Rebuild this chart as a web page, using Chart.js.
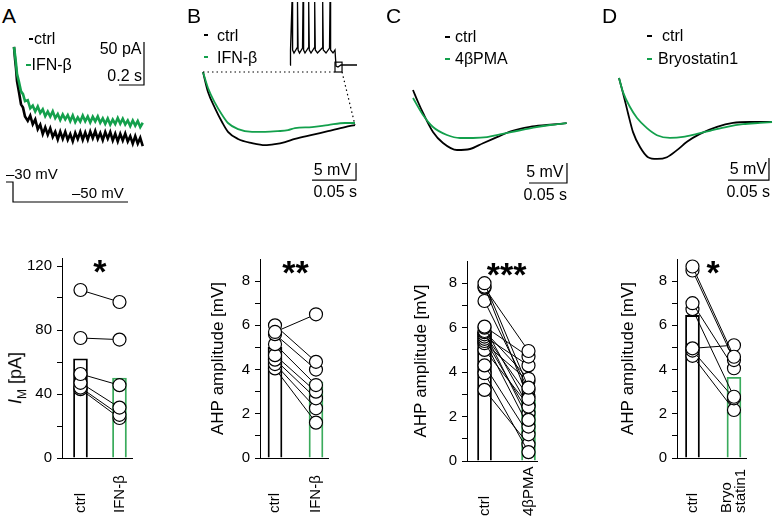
<!DOCTYPE html>
<html>
<head>
<meta charset="utf-8">
<script src="https://cdn.jsdelivr.net/npm/chart.js@4.4.1/dist/chart.umd.min.js"></script>
<style>
  html, body { margin: 0; padding: 0; background: #fff; overflow: hidden; }
  #fig { position: relative; width: 778px; height: 524px; overflow: hidden;
         font-family: "Liberation Sans", Arial, sans-serif; color: #000; }
  #fig canvas { position: absolute; }
  .t { position: absolute; white-space: nowrap; line-height: 1; }
  .dash { position: absolute; height: 2px; }
</style>
</head>
<body>
<div id="fig"></div>
<script>
// ---- top row: example traces ----
// A: I_M relaxation (time in s, current in pA)
const aTime = [0, 0.008, 0.016, 0.024, 0.04, 0.056, 0.072, 0.088,
  0.11, 0.13, 0.15, 0.17, 0.19, 0.21, 0.23, 0.25, 0.27, 0.29, 0.31, 0.33, 0.35, 0.37, 0.39, 0.41,
  0.43, 0.45, 0.47, 0.49, 0.51, 0.53, 0.55, 0.57, 0.59, 0.61, 0.63, 0.65, 0.67, 0.69, 0.71, 0.73,
  0.75, 0.77, 0.79, 0.81, 0.83, 0.85, 0.87, 0.89, 0.91, 0.93, 0.95, 0.97, 0.99, 1.01, 1.03];
const aIfn = [119.8, 110.5, 100.4, 88.6, 78.9, 68.2, 64.9, 56.8,
  57.9, 48.5, 51.6, 44.8, 50.6, 43.0, 47.3, 39.4, 44.6, 38.8, 44.9, 37.1, 41.8, 34.8, 41.2, 35.7,
  40.6, 33.6, 40.1, 32.5, 38.0, 33.0, 40.0, 33.5, 39.0, 32.0, 38.6, 33.3, 39.0, 31.6, 36.8, 30.4,
  36.7, 29.5, 35.4, 30.2, 37.1, 30.5, 36.3, 29.7, 34.4, 27.9, 34.3, 28.3, 33.7, 26.7, 31.7];
const aCtrl = [119.8, 106.2, 95.0, 80.1, 67.2, 53.1, 49.3, 38.9,
  33.9, 39.9, 29.9, 35.5, 24.2, 29.4, 18.5, 26.3, 17.8, 25.3, 15.2, 21.2, 12.3, 21.4, 13.0, 21.1,
  11.9, 18.5, 10.1, 19.9, 12.7, 21.1, 11.9, 20.3, 12.1, 21.4, 13.7, 22.1, 12.9, 19.8, 11.6, 20.9,
  13.2, 20.9, 11.1, 18.9, 10.1, 18.8, 11.0, 19.2, 9.9, 16.1, 7.4, 16.1, 7.4, 14.2, 4.5];
const protoTime = [-0.064, -0.008, -0.008, 0.912];
const protoMv = [-30, -30, -50, -50];

// B: AHP after spike train (ms, mV relative to end of train)
const bCtrlT = [0, 5.7, 13.6, 21.6, 28.4, 39.8, 55.7, 70.5, 81.8, 93.2, 104.5, 123.9, 142.0, 161.4, 172.7];
const bCtrlV = [0, -5.9, -10.6, -14.7, -17.6, -19.7, -20.9, -21.5, -21.2, -20.6, -19.7, -18.5, -17.4, -16.2, -15.6];
const bIfnT = [0, 5.7, 13.6, 21.6, 28.4, 39.8, 55.7, 70.5, 85.2, 96.6, 104.5, 123.9, 142.0, 161.4, 172.7];
const bIfnV = [0, -4.7, -9.1, -12.6, -15.0, -16.8, -17.6, -17.6, -17.4, -17.1, -16.5, -16.2, -15.6, -15.0, -15.0];
// B inset: spike train
const trainT = [0, 2.5, 10, 13, 20, 35, 37.5, 40.5, 47.5, 62.5, 65, 68, 75, 91, 93.5, 96.5, 105, 121,
  123.5, 126.5, 137.5, 161, 163.5, 166.5, 180, 197.5, 200, 203, 215, 225, 230, 240, 255, 335];
const trainV = [-70, -45, 35, -45, -50, -41.7, 35, -45, -50, -41.7, 35, -45, -50, -41.7, 35, -45, -50, -41.7,
  35, -45, -50, -41.7, 35, -45, -50, -41.7, 35, -45, -50, -45, -71.7, -73.3, -70, -70];

// C
const cCtrlT = [0, 6.6, 13.2, 26.3, 39.5, 57.9, 75, 92.1, 110.5, 127.6, 153.9, 175.9, 202.2];
const cCtrlV = [0, -3, -5.75, -10.5, -13.25, -15, -14.75, -13.3, -11.8, -10.4, -9.2, -8.75, -8.3];
const cPmaT = [0, 13.2, 26.3, 44.7, 61.8, 78.9, 97.4, 114.5, 136.4, 158.3, 180.3, 202.2];
const cPmaV = [-2, -6.25, -9.25, -11.25, -12, -12, -11.8, -11.1, -10.25, -9.4, -8.75, -8.3];

// D
const dCtrlT = [0, 4.9, 11.0, 17.1, 25.6, 35.4, 46.3, 58.5, 70.7, 82.9, 98.8, 119.5, 139.0, 159.8, 186.6];
const dCtrlV = [0, -3.4, -8.0, -12.3, -15.7, -18.0, -18.4, -18.0, -16.4, -14.5, -12.7, -11.1, -10.2, -10.0, -10.0];
const dBryoT = [0, 4.9, 13.4, 22.0, 34.1, 46.3, 62.2, 78.0, 95.1, 111.0, 131.7, 151.2, 172.0, 186.6];
const dBryoV = [0, -3.2, -6.6, -9.1, -11.4, -13.0, -13.6, -13.4, -12.7, -12.0, -11.1, -10.5, -10.2, -10.0];

// ---- bottom row: paired values ----
const aCats = ['ctrl', 'IFN-β'];
const aCtrlPts = [105, 75, 52.5, 47, 44, 43];
const aIfnPts = [97.5, 74, 45.5, 31.5, 27, 25];
const aMeans = [62, 50];

const bCats = ['ctrl', 'IFN-β'];
const bCtrlPts = [5.7, 6.0, 5.6, 5.15, 4.65, 4.45, 4.25, 4.05];
const bIfnPts = [6.5, 4.35, 4.0, 3.3, 3.0, 2.7, 2.25, 1.6];
const bMeans = [5.0, 3.45];

const cCats = ['ctrl', '4βPMA'];
const cCtrlPts = [8.0, 7.85, 7.8, 7.2, 6.05, 6.0, 5.85, 5.8, 5.7, 5.6, 5.5, 5.4, 5.3, 5.0, 4.3, 3.95, 3.2];
const cPmaPts = [3.3, 2.8, 4.95, 3.2, 4.7, 2.45, 3.7, 1.85, 2.9, 4.3, 2.15, 1.55, 3.6, 2.5, 1.2, 0.4, 0.75];
const cMeans = [5.8, 2.75];

const dCats = ['ctrl', ['Bryo', 'statin1']];
const dCtrlPts = [8.66, 8.48, 7.0, 6.73, 4.96, 4.86, 4.62];
const dBryoPts = [4.58, 4.43, 4.06, 2.77, 5.1, 2.7, 2.17];
const dMeans = [6.45, 3.65];

const GREEN = '#13a04c';
const GREEN_BAR = '#3aab5c';
const FONT = '"Liberation Sans", Arial, sans-serif';

Chart.defaults.font.family = FONT;
Chart.defaults.color = '#000';

const fig = document.getElementById('fig');

function makeCanvas(left, top, w, h) {
  const c = document.createElement('canvas');
  c.width = w; c.height = h;
  c.style.left = left + 'px'; c.style.top = top + 'px';
  c.style.width = w + 'px'; c.style.height = h + 'px';
  fig.appendChild(c);
  return c;
}

function text(html, x, base, size, align) {
  const d = document.createElement('div');
  d.className = 't';
  d.innerHTML = html;
  d.style.fontSize = size + 'px';
  d.style.left = x + 'px';
  d.style.top = (base - 0.8465 * size) + 'px';
  if (align === 'right') d.style.transform = 'translateX(-100%)';
  if (align === 'center') d.style.transform = 'translateX(-50%)';
  fig.appendChild(d);
  return d;
}

function dash(x, y, w, color) {
  const d = document.createElement('div');
  d.className = 'dash';
  d.style.left = x + 'px'; d.style.top = y + 'px';
  d.style.width = w + 'px'; d.style.background = color;
  fig.appendChild(d);
}

// value range of a hidden axis so that the canvas box lines up with the picture
function frame(left, top, w, h, x0, y0, kx, ky) {
  return { xmin: (left - x0) / kx, xmax: (left + w - x0) / kx,
           ymin: (y0 - top - h) / ky, ymax: (y0 - top) / ky };
}

function extrasPlugin(ex) {
  return {
    id: 'extras',
    afterDatasetsDraw(chart) {
      const { ctx } = chart;
      const xs = chart.scales.x, ys = chart.scales.y;
      const X = v => xs.getPixelForValue(v), Y = v => ys.getPixelForValue(v);
      ctx.save();
      ctx.strokeStyle = '#000';
      ctx.lineWidth = 1.2;
      const b = ex.bar;
      ctx.beginPath();
      ctx.moveTo(X(b.x - b.dx), Y(b.y));
      ctx.lineTo(X(b.x), Y(b.y));
      ctx.lineTo(X(b.x), Y(b.y + b.dy));
      ctx.stroke();
      if (ex.box) {
        const z = ex.box;
        ctx.strokeRect(X(z.x0), Y(z.y1), X(z.x1) - X(z.x0), Y(z.y0) - Y(z.y1));
        ctx.setLineDash([1.5, 3]);
        ctx.beginPath();
        z.links.forEach(l => { ctx.moveTo(X(l[0]), Y(l[1])); ctx.lineTo(X(l[2]), Y(l[3])); });
        ctx.stroke();
      }
      ctx.restore();
    }
  };
}

function traceChart(cv, series, fr, extras, moreScales) {
  const datasets = series.map(s => ({
    data: s.t.map((t, i) => ({ x: t, y: s.v[i] })),
    borderColor: s.color,
    borderWidth: s.width || 1.8,
    pointRadius: 0,
    tension: 0,
    cubicInterpolationMode: s.smooth ? 'monotone' : 'default',
    xAxisID: s.xAxis || 'x',
    yAxisID: s.yAxis || 'y'
  }));
  const scales = {
    x: { type: 'linear', display: false, min: fr.xmin, max: fr.xmax },
    y: { type: 'linear', display: false, min: fr.ymin, max: fr.ymax }
  };
  Object.assign(scales, moreScales || {});
  return new Chart(cv, {
    type: 'line',
    data: { datasets },
    options: {
      responsive: false, animation: false, devicePixelRatio: 1,
      layout: { padding: 0 },
      plugins: { legend: { display: false }, tooltip: { enabled: false } },
      scales
    },
    plugins: [extrasPlugin(extras)]
  });
}

// A trace
{
  const L = 0, T = 30, W = 160, H = 185;
  const fr = frame(L, T, W, H, 14, 150, 125, 0.86);
  const fv = frame(L, T, W, H, 14, 152, 125, 1);
  traceChart(makeCanvas(L, T, W, H), [
    { t: aTime, v: aIfn, color: GREEN, width: 2.6 },
    { t: aTime, v: aCtrl, color: '#000', width: 2.6 },
    { t: protoTime, v: protoMv, color: '#000', width: 1.2, yAxis: 'yv' }
  ], fr, { bar: { x: 1.04, y: 75.6, dx: 0.2, dy: 50 } },
  { yv: { axis: 'y', type: 'linear', display: false, min: fv.ymin, max: fv.ymax } });
}
// B trace + spike train inset
{
  const L = 195, T = 0, W = 170, H = 200;
  const fr = frame(L, T, W, H, 203, 72, 0.88, 3.4);
  const fi = frame(L, T, W, H, 290, 23, 0.2, 0.6);
  traceChart(makeCanvas(L, T, W, H), [
    { t: bIfnT, v: bIfnV, color: GREEN, smooth: true },
    { t: bCtrlT, v: bCtrlV, color: '#000', smooth: true },
    { t: trainT, v: trainV, color: '#000', width: 1.3, xAxis: 'xi', yAxis: 'yi' }
  ], fr, {
    bar: { x: 173.9, y: -31.8, dx: 50, dy: 5 },
    box: { x0: 150, x1: 158, y0: 0, y1: 2.9, links: [[0, 0, 150, 0], [158, 0, 172.7, -15.6]] }
  }, {
    xi: { axis: 'x', type: 'linear', display: false, min: fi.xmin, max: fi.xmax },
    yi: { axis: 'y', type: 'linear', display: false, min: fi.ymin, max: fi.ymax }
  });
}
// C trace
{
  const L = 400, T = 70, W = 175, H = 125;
  const fr = frame(L, T, W, H, 413, 90, 0.76, 4);
  traceChart(makeCanvas(L, T, W, H), [
    { t: cPmaT, v: cPmaV, color: GREEN, smooth: true },
    { t: cCtrlT, v: cCtrlV, color: '#000', smooth: true }
  ], fr, { bar: { x: 202.6, y: -23.25, dx: 50, dy: 5 } });
}
// D trace
{
  const L = 605, T = 65, W = 173, H = 125;
  const fr = frame(L, T, W, H, 619, 78, 0.82, 4.4);
  traceChart(makeCanvas(L, T, W, H), [
    { t: dBryoT, v: dBryoV, color: GREEN, smooth: true },
    { t: dCtrlT, v: dCtrlV, color: '#000', smooth: true }
  ], fr, { bar: { x: 182.9, y: -23.2, dx: 50, dy: 5 } });
}

// ---- bottom paired plots ----
function marksPlugin(sig, cats) {
  return {
    id: 'marks',
    afterDraw(chart) {
      const { ctx, chartArea } = chart;
      const xs = chart.scales.x;
      ctx.save();
      ctx.fillStyle = '#000';
      ctx.font = 'bold 34px ' + FONT;
      ctx.textAlign = 'center';
      ctx.textBaseline = 'alphabetic';
      ctx.fillText(sig, (xs.getPixelForValue(1) + xs.getPixelForValue(2)) / 2, chartArea.top + 25);
      ctx.font = '15px ' + FONT;
      ctx.textAlign = 'left';
      ctx.textBaseline = 'middle';
      cats.forEach((c, i) => {
        const lines = [].concat(c);
        const px = xs.getPixelForValue(i + 1);
        lines.forEach((ln, k) => {
          ctx.save();
          ctx.translate(px + (k - (lines.length - 1) / 2) * 14, chartArea.bottom + 55);
          ctx.rotate(-Math.PI / 2);
          ctx.fillText(ln, 0, 0);
          ctx.restore();
        });
      });
      ctx.restore();
    }
  };
}

function pairedChart(p) {
  const top = 235, height = 524 - top;
  const cv = makeCanvas(p.left, top, p.right - p.left, height);
  const datasets = [{
    type: 'bar',
    data: p.means.map((m, i) => ({ x: i + 1, y: m })),
    backgroundColor: 'rgba(255,255,255,0)',
    borderColor: ['#000', GREEN_BAR],
    borderWidth: 1.2,
    barThickness: 14,
    order: 10
  }];
  p.ctrl.forEach((v, i) => {
    datasets.push({
      type: 'line',
      data: [{ x: 1, y: v }, { x: 2, y: p.treat[i] }],
      borderColor: '#000', borderWidth: 1,
      pointRadius: 6.5, pointBackgroundColor: '#fff',
      pointBorderColor: '#000', pointBorderWidth: 1.2,
      order: 1
    });
  });
  return new Chart(cv, {
    type: 'bar',
    data: { datasets },
    options: {
      responsive: false, animation: false, devicePixelRatio: 1,
      layout: { padding: { top: p.areaTop - top, right: p.right - p.areaRight, left: 0, bottom: 0 } },
      plugins: { legend: { display: false }, tooltip: { enabled: false } },
      scales: {
        x: {
          type: 'linear', min: p.xMin, max: p.xMax, offset: false,
          grid: { display: false, drawTicks: false },
          border: { display: true, color: '#000', width: 1 },
          ticks: { display: false },
          afterFit(s) { s.height = 524 - p.areaBottom; }
        },
        y: {
          type: 'linear', min: 0, max: p.yMax,
          ticks: {
            stepSize: p.step, padding: 5, color: '#000', font: { size: 15 },
            includeBounds: false, autoSkip: false,
            callback: v => (v % p.labelEvery === 0 ? v : '')
          },
          afterBuildTicks(s) { s.ticks = s.ticks.filter(t => t.value <= p.yTop); },
          grid: { drawOnChartArea: false, drawTicks: true, tickLength: 5, color: '#000' },
          border: { display: true, color: '#000', width: 1 },
          title: { display: !!p.title, text: p.title, font: { size: 17 }, padding: { top: 0, bottom: 0 } },
          afterFit(s) { s.width = p.axisX - p.left; }
        }
      }
    },
    plugins: [marksPlugin(p.sig, p.cats)]
  });
}

pairedChart({ left: 20, right: 150, axisX: 62, areaTop: 258, areaRight: 132, areaBottom: 458,
  xMin: 0.526, xMax: 2.321, yMax: 125, yTop: 120, step: 20, labelEvery: 40, title: '',
  cats: aCats, ctrl: aCtrlPts, treat: aIfnPts, means: aMeans, sig: '*' });
pairedChart({ left: 208, right: 346, axisX: 260, areaTop: 259, areaRight: 328, areaBottom: 458,
  xMin: 0.634, xMax: 2.293, yMax: 9, yTop: 8, step: 1, labelEvery: 2, title: 'AHP amplitude [mV]',
  cats: bCats, ctrl: bCtrlPts, treat: bIfnPts, means: bMeans, sig: '**' });
pairedChart({ left: 411, right: 555, axisX: 467, areaTop: 261, areaRight: 537, areaBottom: 461,
  xMin: 0.602, xMax: 2.193, yMax: 9, yTop: 8, step: 1, labelEvery: 2, title: 'AHP amplitude [mV]',
  cats: cCats, ctrl: cCtrlPts, treat: cPmaPts, means: cMeans, sig: '***' });
pairedChart({ left: 618, right: 778, axisX: 677, areaTop: 259, areaRight: 746, areaBottom: 458,
  xMin: 0.627, xMax: 2.29, yMax: 9, yTop: 8, step: 1, labelEvery: 2, title: 'AHP amplitude [mV]',
  cats: dCats, ctrl: dCtrlPts, treat: dBryoPts, means: dMeans, sig: '*' });

// ---- text: panel letters, legends, scale bars ----
text('A', 2, 23, 21); text('B', 187, 23, 21); text('C', 386, 23, 21); text('D', 602, 23, 21);

dash(29, 38, 4, '#000'); text('ctrl', 34, 44.5, 16);
dash(26, 64, 5, GREEN); text('IFN-β', 31.5, 70.5, 16);
text('50 pA', 141.5, 55, 16, 'right');
text('0.2 s', 142, 81.5, 16, 'right');
text('–30 mV', 6, 178.5, 15);
text('–50 mV', 72, 198, 15);

dash(204, 34, 4, '#000'); text('ctrl', 217, 41.5, 16);
dash(204, 56, 4, GREEN); text('IFN-β', 217, 63.5, 16);
text('5 mV', 351, 175.5, 16, 'right');
text('0.05 s', 357, 198, 16, 'right');

dash(445, 36, 5, '#000'); text('ctrl', 455, 43, 16);
dash(445, 58, 5, GREEN); text('4βPMA', 455, 65, 16);
text('5 mV', 563.5, 177.5, 16, 'right');
text('0.05 s', 567, 201, 16, 'right');

dash(647, 35, 5, '#000'); text('ctrl', 662, 42, 16);
dash(647, 58, 5, GREEN); text('Bryostatin1', 658, 65, 16);
text('5 mV', 767, 174.5, 16, 'right');
text('0.05 s', 770, 198, 16, 'right');

// A y-axis title with italic I and subscript M
const yt = text('<i>I</i><sub style="font-size:12px">M</sub> [pA]', 17, 378, 18);
yt.style.top = '378px';
yt.style.transform = 'translate(-50%, -50%) rotate(-90deg)';
</script>
</body>
</html>
